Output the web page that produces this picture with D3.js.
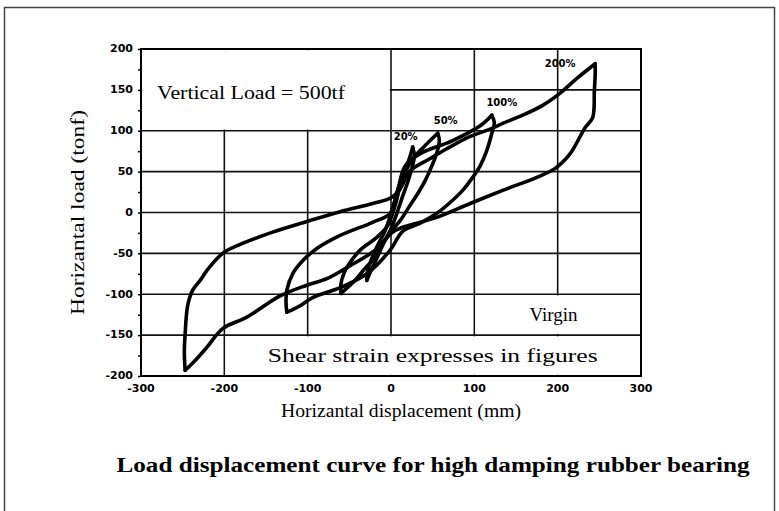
<!DOCTYPE html>
<meta charset="utf-8">
<script src="https://cdn.jsdelivr.net/npm/d3@7"></script>
<style>
  body { margin: 0; background: #fff; }
  text { font-family: "Liberation Serif", "DejaVu Serif", serif; fill: #000; }
  .tick-lbl { font-family: "DejaVu Sans", sans-serif; font-weight: bold; font-size: 11px; }
</style>
<div id="chart"></div>
<script>
// axis ticks
const xTicks = [-300, -200, -100, 0, 100, 200, 300];
const yTicks = [200, 150, 100, 50, 0, -50, -100, -150, -200];
const strainLabels = ["20%", "50%", "100%", "200%"];

// hysteresis loops, [displacement mm, load tonf]
// "up" = from negative tip to positive tip, "down" = back again
const loop1Up = [[-29,-83],[-28,-71],[-23,-56],[-16,-40],[-7,-22],[1,2],[8,27],[16,49],[22,66],[26,80]];
const loop1Down = [[26,80],[28,69],[25,54],[20,37],[13,17],[6,-4],[-1,-22],[-10,-40],[-17,-56],[-24,-71],[-29,-83]];

const loop2Up = [[-60,-99],[-60,-87],[-56,-73],[-49,-61],[-37,-46],[-19,-32],[-4,-16],[5,9],[13,39],[25,64],[41,82],[56,97]];
const loop2Down = [[56,97],[58,88],[55,73],[49,57],[41,39],[32,23],[23,9],[11,-10],[-1,-24],[-11,-40],[-19,-55],[-31,-68],[-43,-83],[-60,-99]];

const loop3Up = [[-125,-122],[-126,-108],[-125,-95],[-118,-75],[-106,-59],[-89,-44],[-61,-28],[-22,-12],[-1,-1],[8,27],[17,57],[35,72],[74,88],[107,106],[121,119]];
const loop3Down = [[121,119],[124,110],[121,97],[115,76],[107,57],[98,43],[86,27],[74,15],[55,-1],[35,-13],[14,-23],[-1,-46],[-29,-75],[-61,-92],[-94,-104],[-109,-114],[-125,-122]];

const loop4Up = [[-247,-193],[-248,-171],[-247,-148],[-244,-114],[-238,-95],[-229,-83],[-221,-71],[-202,-50],[-181,-39],[-142,-24],[-101,-11],[-61,1],[-22,11],[0,18],[11,29],[23,51],[47,66],[67,78],[95,93],[119,102],[134,109],[158,119],[182,131],[203,146],[223,164],[245,182]];
const loop4Down = [[245,182],[245,168],[244,149],[242,116],[233,104],[215,72],[197,54],[175,43],[134,27],[95,11],[55,-6],[14,-18],[2,-24],[-19,-46],[-49,-65],[-77,-81],[-101,-89],[-133,-102],[-173,-128],[-202,-142],[-221,-165],[-235,-181],[-247,-193]];

const loops = [[loop1Up, loop1Down], [loop2Up, loop2Down], [loop3Up, loop3Down], [loop4Up, loop4Down]];

const W = 779, H = 511;
const margin = {top: 49, right: 138, bottom: 135, left: 141};
const width = W - margin.left - margin.right,
      height = H - margin.top - margin.bottom;

const svg = d3.select("#chart").append("svg")
    .attr("width", W)
    .attr("height", H);

// outer border of the figure
svg.append("rect")
    .attr("x", 4.5).attr("y", 7.5)
    .attr("width", 770).attr("height", 600)
    .attr("fill", "none")
    .attr("stroke", "#444")
    .attr("stroke-width", 1.5);

const g = svg.append("g")
    .attr("transform", `translate(${margin.left},${margin.top})`);

const x = d3.scaleLinear().domain([-300, 300]).range([0, width]);
const y = d3.scaleLinear().domain([-200, 200]).range([height, 0]);

// grid
g.append("g")
  .selectAll("line.v")
  .data(xTicks)
  .join("line")
    .attr("x1", d => x(d)).attr("x2", d => x(d))
    .attr("y1", 0).attr("y2", height)
    .attr("stroke", "#111").attr("stroke-width", 1.6);
g.append("g")
  .selectAll("line.h")
  .data(yTicks)
  .join("line")
    .attr("x1", 0).attr("x2", width)
    .attr("y1", d => y(d)).attr("y2", d => y(d))
    .attr("stroke", "#111").attr("stroke-width", 1.6);

// white note boxes sitting on the grid
const boxes = [
  [-300, 0, 200, 100],
  [100, 300, -100, -150],
  [-200, 300, -150, -200]
];
g.selectAll("rect.box")
  .data(boxes)
  .join("rect")
    .attr("x", d => x(d[0]) + 1.2)
    .attr("y", d => y(d[2]) + 1.2)
    .attr("width", d => x(d[1]) - x(d[0]) - 2.4)
    .attr("height", d => y(d[3]) - y(d[2]) - 2.4)
    .attr("fill", "#fff");

// frame
g.append("rect")
    .attr("width", width).attr("height", height)
    .attr("fill", "none")
    .attr("stroke", "#000").attr("stroke-width", 2);

// axes (labels only, small outward ticks)
const yAxis = g.append("g")
    .call(d3.axisLeft(y).tickValues(d3.range(-200, 201, 25)).tickSize(3).tickFormat(""));
yAxis.select(".domain").remove();
yAxis.selectAll("line").attr("stroke", "#000").attr("stroke-width", 1.5);

g.append("g")
  .selectAll("text")
  .data(yTicks)
  .join("text")
    .attr("class", "tick-lbl")
    .attr("x", -8)
    .attr("y", d => y(d))
    .attr("dy", "0.3em")
    .attr("text-anchor", "end")
    .text(d => d);

g.append("g")
  .selectAll("text")
  .data(xTicks)
  .join("text")
    .attr("class", "tick-lbl")
    .attr("x", d => x(d))
    .attr("y", height + 16)
    .attr("text-anchor", "middle")
    .text(d => d);

// loops
const line = d3.line()
    .x(d => x(d[0]))
    .y(d => y(d[1]))
    .curve(d3.curveCatmullRom.alpha(0.5));

loops.forEach(lp => {
  lp.forEach(branch => {
    g.append("path")
      .datum(branch)
      .attr("d", line)
      .attr("fill", "none")
      .attr("stroke", "#000")
      .attr("stroke-width", 3.6)
      .attr("stroke-linejoin", "round")
      .attr("stroke-linecap", "round");
  });
});

// strain labels at the positive tips
const labelOffsets = [[-7, -11], [8, -13], [10, -13], [-35, 0]];
loops.forEach((lp, i) => {
  const tip = lp[0][lp[0].length - 1];
  g.append("text")
    .attr("x", x(tip[0]) + labelOffsets[i][0])
    .attr("y", y(tip[1]) + labelOffsets[i][1])
    .attr("dy", "0.35em")
    .attr("text-anchor", "middle")
    .style("font-family", "DejaVu Sans, sans-serif")
    .style("font-weight", "bold")
    .style("font-size", "10px")
    .text(strainLabels[i]);
});

// notes inside the plot
g.append("text")
    .attr("x", 16).attr("y", 50)
    .attr("font-size", 18)
    .attr("textLength", 188).attr("lengthAdjust", "spacingAndGlyphs")
    .text("Vertical Load = 500tf");

g.append("text")
    .attr("x", x(195)).attr("y", y(-125))
    .attr("dy", "0.35em")
    .attr("text-anchor", "middle")
    .attr("font-size", 19)
    .text("Virgin");

g.append("text")
    .attr("x", x(50)).attr("y", y(-175))
    .attr("dy", "0.35em")
    .attr("text-anchor", "middle")
    .attr("font-size", 18)
    .attr("textLength", 330).attr("lengthAdjust", "spacingAndGlyphs")
    .text("Shear strain expresses in figures");

// axis titles
svg.append("text")
    .attr("transform", `translate(84,${margin.top + y(0)}) rotate(-90)`)
    .attr("text-anchor", "middle")
    .attr("font-size", 19)
    .attr("textLength", 205).attr("lengthAdjust", "spacingAndGlyphs")
    .text("Horizantal load (tonf)");

svg.append("text")
    .attr("x", 401).attr("y", 417)
    .attr("text-anchor", "middle")
    .attr("font-size", 19)
    .attr("textLength", 240).attr("lengthAdjust", "spacingAndGlyphs")
    .text("Horizantal displacement (mm)");

svg.append("text")
    .attr("x", 433).attr("y", 472)
    .attr("text-anchor", "middle")
    .attr("font-size", 22)
    .attr("font-weight", "bold")
    .attr("textLength", 633).attr("lengthAdjust", "spacingAndGlyphs")
    .text("Load displacement curve for high damping rubber bearing");
</script>
